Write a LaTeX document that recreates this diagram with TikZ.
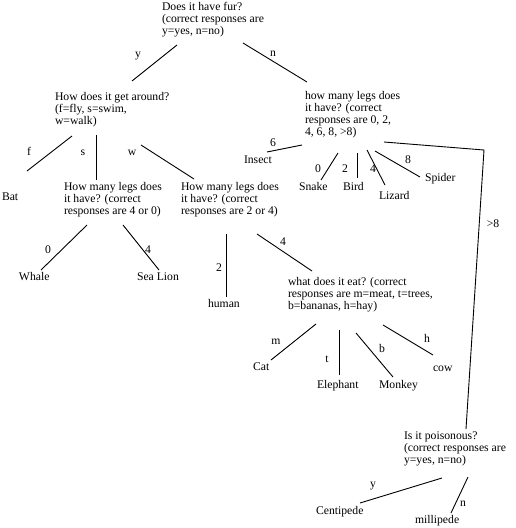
\documentclass[tikz,border=0pt]{standalone}
\usepackage{fontspec}
\setmainfont{Liberation Serif}
\begin{document}
\begin{tikzpicture}[x=1pt,y=-1pt,
  every node/.style={inner sep=0pt,outer sep=0pt,font=\fontsize{11.7}{12}\selectfont},
  question/.style={anchor=north west,align=left},
  leaf/.style={anchor=west,text height=8pt,text depth=0pt},
  lbl/.style={anchor=center,text height=8pt,text depth=0pt},
  edge/.style={draw=black,line width=0.9pt}]
\useasboundingbox (0,0) rectangle (516,528);
% questions
\node[question] (q1) at (162,2) {Does it have fur?\\(correct responses are\\y=yes, n=no)};
\node[question] (q2) at (55,92) {How does it get around?\\(f=fly, s=swim,\\w=walk)};
\node[question] (q3) at (64,182.5) {How many legs does\\it have? (correct\\responses are 4 or 0)};
\node[question] (q4) at (181,182.5) {How many legs does\\it have? (correct\\responses are 2 or 4)};
\node[question] (q6) at (305,91.5) {how many legs does\\it have? (correct\\responses are 0, 2,\\4, 6, 8, >8)};
\node[question] (q5) at (288,277.5) {what does it eat? (correct\\responses are m=meat, t=trees,\\b=bananas, h=hay)};
\node[question] (q7) at (404,431.5) {Is it poisonous?\\(correct responses are\\y=yes, n=no)};
% leaves
\node[leaf] (bat) at (2,196) {Bat};
\node[leaf] (whale) at (19,276) {Whale};
\node[leaf] (sealion) at (137,276) {Sea Lion};
\node[leaf] (human) at (208,303) {human};
\node[leaf] (cat) at (253,366) {Cat};
\node[leaf] (elephant) at (317,384) {Elephant};
\node[leaf] (monkey) at (379,384) {Monkey};
\node[leaf] (cow) at (433,367) {cow};
\node[leaf] (insect) at (244,159) {Insect};
\node[leaf] (snake) at (299,186) {Snake};
\node[leaf] (bird) at (343,186) {Bird};
\node[leaf] (lizard) at (379,195) {Lizard};
\node[leaf] (spider) at (425,177) {Spider};
\node[leaf] (centipede) at (316,510) {Centipede};
\node[leaf] (millipede) at (415,519) {millipede};
% connector ends
\coordinate (ya) at (177,45); \coordinate (yb) at (132,81);
\coordinate (na) at (243,43); \coordinate (nb) at (307,82);
\coordinate (fa) at (72,136); \coordinate (fb) at (27,171);
\coordinate (sa) at (96,135); \coordinate (sb) at (96,180);
\coordinate (wa) at (141,145); \coordinate (wb) at (194,179);
\coordinate (za) at (87,225); \coordinate (zb) at (41,270);
\coordinate (fra) at (123,225); \coordinate (frb) at (159,270);
\coordinate (ha) at (226,234); \coordinate (hb) at (226,297);
\coordinate (ea) at (257,234); \coordinate (eb) at (312,271);
\coordinate (ma) at (316,324); \coordinate (mb) at (271,360);
\coordinate (ta) at (339,330); \coordinate (tb) at (339,375);
\coordinate (ba) at (356,333); \coordinate (bb) at (393,377);
\coordinate (hya) at (383,325); \coordinate (hyb) at (433,355);
\coordinate (ia) at (302,145); \coordinate (ib) at (267,152);
\coordinate (sna) at (338,153); \coordinate (snb) at (321,180);
\coordinate (bia) at (357,153); \coordinate (bib) at (357,178);
\coordinate (lia) at (367,150); \coordinate (lib) at (385,185);
\coordinate (spa) at (375,151); \coordinate (spb) at (420,177);
\coordinate (ga) at (384,142); \coordinate (gc) at (484,150); \coordinate (gb) at (466,429);
\coordinate (pya) at (442,478); \coordinate (pyb) at (360,503);
\coordinate (pna) at (468,477); \coordinate (pnb) at (451,513);
% connectors
\draw[edge] (ya) -- (yb);
\draw[edge] (na) -- (nb);
\draw[edge] (fa) -- (fb);
\draw[edge] (sa) -- (sb);
\draw[edge] (wa) -- (wb);
\draw[edge] (za) -- (zb);
\draw[edge] (fra) -- (frb);
\draw[edge] (ha) -- (hb);
\draw[edge] (ea) -- (eb);
\draw[edge] (ma) -- (mb);
\draw[edge] (ta) -- (tb);
\draw[edge] (ba) -- (bb);
\draw[edge] (hya) -- (hyb);
\draw[edge] (ia) -- (ib);
\draw[edge] (sna) -- (snb);
\draw[edge] (bia) -- (bib);
\draw[edge] (lia) -- (lib);
\draw[edge] (spa) -- (spb);
\draw[edge] (ga) -- (gc) -- (gb);
\draw[edge] (pya) -- (pyb);
\draw[edge] (pna) -- (pnb);
% labels
\node[lbl] (ly) at (138,53) {y};
\node[lbl] (ln) at (273,52) {n};
\node[lbl] (lf) at (29,151) {f};
\node[lbl] (ls) at (83,151) {s};
\node[lbl] (lw) at (132,151) {w};
\node[lbl] (l0) at (48,249) {0};
\node[lbl] (l4) at (148,249) {4};
\node[lbl] (l2h) at (219,267) {2};
\node[lbl] (l4e) at (283,241) {4};
\node[lbl] (lm) at (276,340) {m};
\node[lbl] (lt) at (327,358) {t};
\node[lbl] (lb) at (382,348) {b};
\node[lbl] (lh) at (427,338) {h};
\node[lbl] (l6) at (273,142) {6};
\node[lbl] (l0s) at (318,168) {0};
\node[lbl] (l2b) at (345,168) {2};
\node[lbl] (l4l) at (373,168) {4};
\node[lbl] (l8) at (408,159) {8};
\node[lbl] (lg8) at (493,223) {>8};
\node[lbl] (lpy) at (373,483) {y};
\node[lbl] (lpn) at (463,502) {n};
\end{tikzpicture}
\end{document}
